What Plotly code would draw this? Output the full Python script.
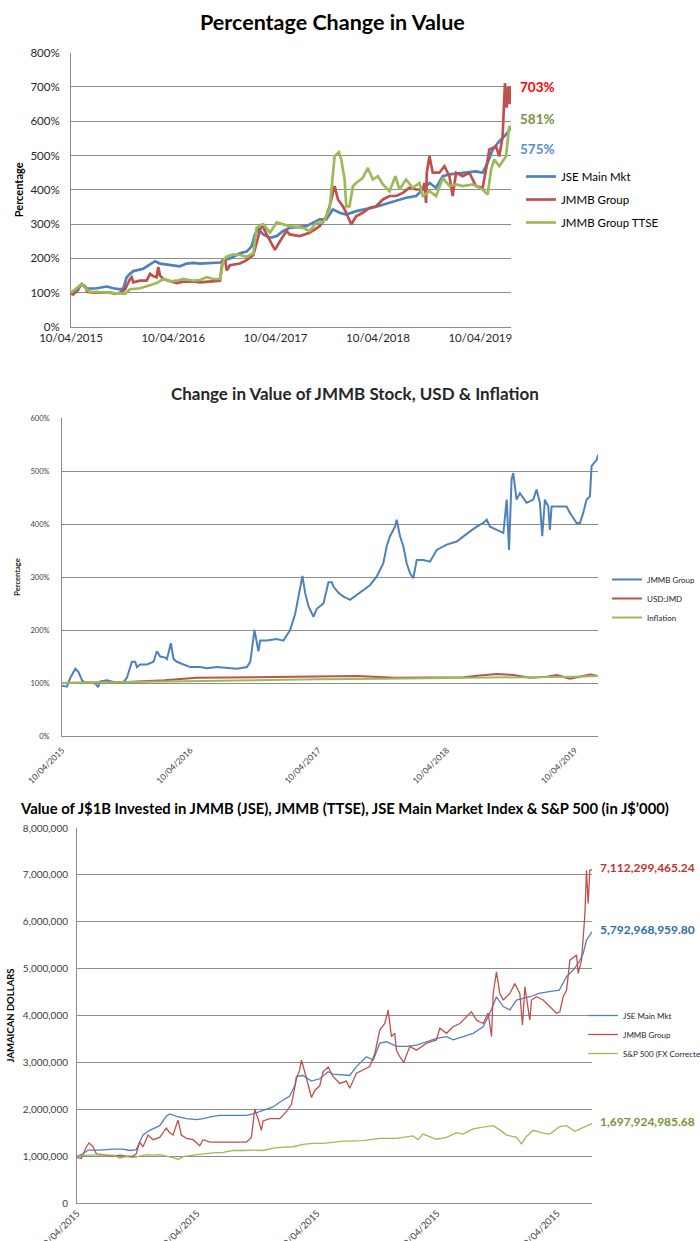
import plotly.graph_objects as go

W, H = 700, 1241
FONT = "Lato"
BLUE, RED, GREEN = "#4F81BD", "#C0504D", "#9BBB59"
GRID = "#8C8C8C"

# ---------------- Chart 1: Percentage Change in Value (years since 10/04/2015, %)
c1_ticks = [0, 1, 2, 3, 4]
c1_ticktext = ["10/04/2015", "10/04/2016", "10/04/2017", "10/04/2018", "10/04/2019"]

c1_jse_t = [0, 0.055, 0.088, 0.104, 0.137, 0.153, 0.251, 0.349, 0.414, 0.479, 0.511, 0.544, 0.577, 0.609,
            0.707, 0.772, 0.821, 0.870, 0.935, 1.000, 1.065, 1.130, 1.195, 1.261, 1.326, 1.391, 1.456, 1.489,
            1.554, 1.586, 1.651, 1.717, 1.765, 1.798, 1.831, 1.879, 1.945, 2.010, 2.075,
            2.137, 2.300, 2.430, 2.495, 2.560, 2.625, 2.690, 2.787, 2.950, 3.113, 3.275, 3.373, 3.438, 3.503,
            3.568, 3.633, 3.698, 3.828, 3.958, 4.023, 4.072, 4.121, 4.186, 4.235, 4.300]
c1_jse_v = [100, 102, 118, 125, 118, 112, 113, 118, 113, 110, 112, 145, 155, 163, 170, 183, 192, 185, 182,
            178, 177, 185, 187, 185, 186, 185, 188, 195, 200, 205, 215, 220, 235, 270, 285, 270, 260, 265, 280,
            289, 294, 314, 314, 343, 333, 328, 338, 348, 362, 377, 382, 401, 420, 406, 440, 445, 450, 454, 450,
            479, 517, 542, 556, 580]

c1_jmmb_t = [0, 0.023, 0.072, 0.104, 0.137, 0.160, 0.218, 0.283, 0.381, 0.430, 0.479, 0.528, 0.577, 0.593,
             0.609, 0.674, 0.739, 0.772, 0.805, 0.837, 0.853, 0.870, 0.902, 0.967, 1.033, 1.098, 1.195, 1.261,
             1.358, 1.456, 1.482, 1.505, 1.521, 1.554, 1.651, 1.717, 1.782, 1.831, 1.863, 1.912, 1.961, 1.993,
             2.042, 2.107,
             2.137, 2.235, 2.332, 2.430, 2.495, 2.527, 2.576, 2.609, 2.657, 2.690, 2.739, 2.787, 2.852, 2.918,
             2.983, 3.048, 3.113, 3.178, 3.243, 3.308, 3.373, 3.438, 3.454, 3.470, 3.477, 3.503, 3.535, 3.600,
             3.649, 3.698, 3.730, 3.763, 3.828, 3.893, 3.958, 4.023, 4.056, 4.088, 4.153, 4.186, 4.218, 4.241,
             4.258, 4.274, 4.290, 4.300]
c1_jmmb_v = [97, 95, 115, 125, 118, 103, 100, 101, 100, 97, 100, 110, 140, 145, 130, 135, 135, 155, 148, 145,
             175, 150, 140, 135, 128, 132, 133, 130, 132, 135, 195, 200, 165, 180, 185, 195, 210, 260, 300, 270,
             240, 225, 250, 280,
             270, 265, 275, 294, 323, 352, 411, 372, 352, 333, 299, 323, 333, 348, 352, 372, 382, 382, 391, 406,
             401, 401, 420, 362, 450, 498, 450, 450, 469, 440, 382, 450, 440, 450, 411, 406, 459, 517, 527, 498,
             556, 711, 640, 700, 650, 703]

c1_ttse_t = [0, 0.104, 0.153, 0.186, 0.283, 0.381, 0.479, 0.528, 0.577, 0.674, 0.772, 0.837, 0.902, 0.967,
             1.033, 1.098, 1.195, 1.261, 1.326, 1.391, 1.456, 1.489, 1.521, 1.586, 1.651, 1.717, 1.782, 1.814,
             1.879, 1.945, 2.010, 2.075,
             2.137, 2.267, 2.332, 2.397, 2.462, 2.527, 2.544, 2.576, 2.618, 2.641, 2.674, 2.690, 2.722, 2.755,
             2.787, 2.852, 2.901, 2.950, 2.999, 3.048, 3.113, 3.171, 3.210, 3.275, 3.340, 3.405, 3.438, 3.503,
             3.568, 3.633, 3.698, 3.763, 3.828, 3.926, 4.023, 4.072, 4.105, 4.137, 4.186, 4.251, 4.283, 4.300]
c1_ttse_v = [100, 125, 110, 103, 102, 100, 97, 97, 110, 113, 122, 128, 140, 133, 135, 140, 135, 137, 145, 140,
             140, 195, 205, 212, 210, 205, 215, 290, 300, 275, 305, 300,
             294, 289, 280, 304, 304, 343, 401, 498, 510, 488, 430, 352, 352, 411, 420, 435, 464, 430, 440, 416,
             396, 440, 401, 430, 406, 420, 382, 396, 382, 435, 411, 416, 411, 416, 401, 386, 459, 488, 469, 498,
             585, 581]

c1_names = ["JSE Main Mkt", "JMMB Group", "JMMB Group TTSE"]
c1_end_labels = ["703%", "581%", "575%"]
c1_end_label_y = [700, 606, 519]
c1_end_label_colors = ["#FF0000", "#77933C", "#558ED5"]

# ---------------- Chart 2: Change in Value of JMMB Stock, USD & Inflation (%)
c2_ticktext = ["10/04/2015", "10/04/2016", "10/04/2017", "10/04/2018", "10/04/2019"]
c2_jmmb_t = [0, 0.039, 0.065, 0.104, 0.130, 0.156, 0.182, 0.221, 0.260, 0.281,
             0.299, 0.351, 0.403, 0.481, 0.506, 0.545, 0.571, 0.584, 0.610, 0.662,
             0.714, 0.740, 0.766, 0.805, 0.818, 0.849, 0.870, 0.896, 0.948, 1.000,
             1.078, 1.130, 1.208, 1.286, 1.364, 1.442, 1.468, 1.501, 1.519, 1.532,
             1.545, 1.597, 1.675, 1.727, 1.753, 1.779, 1.818, 1.844, 1.875, 1.896,
             1.922, 1.961, 1.987, 2.039, 2.078, 2.104, 2.117, 2.156, 2.195, 2.247,
             2.299, 2.351, 2.403, 2.455, 2.506, 2.532, 2.558, 2.597, 2.610, 2.636,
             2.662, 2.688, 2.714, 2.740, 2.766, 2.818, 2.870, 2.922, 3.000, 3.078,
             3.130, 3.182, 3.234, 3.286, 3.312, 3.338, 3.390, 3.442, 3.468, 3.486,
             3.506, 3.519, 3.545, 3.571, 3.623, 3.675, 3.701, 3.727, 3.745, 3.766,
             3.792, 3.805, 3.818, 3.883, 3.935, 3.961, 4.013, 4.039, 4.065, 4.091,
             4.117, 4.130, 4.169, 4.182]
c2_jmmb_v = [95, 93, 110, 127, 120, 105, 100, 101, 99, 92,
             103, 105, 102, 102, 110, 140, 140, 130, 135, 135,
             140, 160, 150, 148, 145, 175, 145, 140, 135, 130,
             130, 128, 130, 128, 127, 130, 140, 200, 175, 160,
             180, 180, 183, 180, 190, 200, 230, 265, 302, 270,
             245, 225, 240, 250, 290, 290, 282, 270, 263, 257,
             266, 276, 285, 301, 326, 358, 377, 395, 408, 377,
             358, 326, 307, 298, 332, 332, 329, 351, 361, 367,
             377, 386, 395, 402, 408, 395, 389, 383, 446, 351,
             484, 496, 446, 458, 440, 446, 465, 440, 377, 446,
             433, 389, 433, 433, 433, 421, 402, 402, 421, 446,
             452, 509, 521, 531]
c2_usd_t = [0, 0.5, 0.8, 1.05, 1.5, 2.0, 2.3, 2.6, 2.9, 3.13, 3.26, 3.39, 3.52, 3.65, 3.78, 3.86, 3.96, 4.04,
            4.12, 4.18]
c2_usd_v = [100, 102, 105, 110, 111, 112, 113, 110, 110, 111, 114, 117, 115, 110, 112, 115, 108, 112, 116, 113]
c2_inf_t = [0, 0.5, 1.0, 1.5, 2.0, 2.5, 3.0, 3.5, 4.0, 4.18]
c2_inf_v = [100, 102, 103, 105, 107, 108, 109, 111, 112, 113]
c2_names = ["JMMB Group", "USD:JMD", "Inflation"]

# ---------------- Chart 3: Value of J$1B invested (J$ billions = millions of J$'000)
c3_ticktext = ["10/04/2015"] * 5
c3_ytickvals = [0, 1, 2, 3, 4, 5, 6, 7, 8]
c3_yticktext = ["0", "1,000,000", "2,000,000", "3,000,000", "4,000,000", "5,000,000", "6,000,000",
                "7,000,000", "8,000,000"]
c3_jse_t = [0, 0.05, 0.092, 0.189, 0.3, 0.383, 0.439, 0.494, 0.522, 0.55,
            0.606, 0.689, 0.744, 0.772, 0.828, 0.911, 0.994, 1.05, 1.133, 1.189,
            1.3, 1.411, 1.467, 1.522, 1.578, 1.633, 1.689, 1.772, 1.814, 1.828,
            1.883, 1.953, 2.022, 2.092, 2.133, 2.217, 2.272, 2.328, 2.411, 2.467,
            2.522, 2.578, 2.661, 2.744, 2.828, 2.911, 2.994, 3.078, 3.133, 3.217,
            3.3, 3.383, 3.439, 3.494, 3.55, 3.606, 3.661, 3.772, 3.85, 3.933,
            4.017, 4.078, 4.133, 4.175, 4.217, 4.244, 4.292]
c3_jse_v = [1.0, 1.05, 1.13, 1.13, 1.15, 1.15, 1.12, 1.14, 1.3, 1.45,
            1.55, 1.65, 1.85, 1.9, 1.85, 1.8, 1.78, 1.8, 1.85, 1.87,
            1.87, 1.87, 1.9, 1.95, 2.0, 2.05, 2.15, 2.28, 2.5, 2.7,
            2.72, 2.6, 2.65, 2.8, 2.75, 2.73, 2.72, 2.91, 3.12, 3.05,
            3.41, 3.44, 3.34, 3.34, 3.37, 3.44, 3.51, 3.55, 3.48, 3.55,
            3.62, 3.76, 4.05, 4.40, 4.19, 4.12, 4.33, 4.40, 4.47, 4.51,
            4.54, 4.83, 4.97, 5.11, 5.32, 5.61, 5.79]
c3_jmmb_t = [0, 0.036, 0.078, 0.1, 0.133, 0.161, 0.244, 0.3, 0.356, 0.411,
             0.467, 0.494, 0.522, 0.55, 0.592, 0.633, 0.689, 0.744, 0.772, 0.8,
             0.842, 0.869, 0.911, 0.967, 1.022, 1.05, 1.106, 1.189, 1.3, 1.411,
             1.453, 1.481, 1.508, 1.536, 1.55, 1.606, 1.689, 1.744, 1.786, 1.828,
             1.856, 1.869, 1.897, 1.925, 1.953, 1.981, 2.022, 2.05, 2.092, 2.133,
             2.189, 2.244, 2.272, 2.328, 2.383, 2.439, 2.481, 2.522, 2.564, 2.592,
             2.619, 2.647, 2.661, 2.689, 2.722, 2.772, 2.828, 2.911, 2.994, 3.022,
             3.078, 3.133, 3.189, 3.244, 3.286, 3.328, 3.383, 3.425, 3.453, 3.467,
             3.494, 3.522, 3.55, 3.606, 3.647, 3.689, 3.711, 3.731, 3.772, 3.786,
             3.828, 3.883, 3.939, 3.994, 4.022, 4.05, 4.078, 4.106, 4.161, 4.175,
             4.203, 4.231, 4.244, 4.258, 4.272, 4.292]
c3_jmmb_v = [0.97, 0.95, 1.2, 1.28, 1.2, 1.05, 1.02, 1.0, 1.02, 1.0,
             1.0, 1.05, 1.3, 1.2, 1.45, 1.35, 1.4, 1.6, 1.5, 1.45,
             1.77, 1.45, 1.38, 1.35, 1.22, 1.35, 1.3, 1.3, 1.3, 1.3,
             1.4, 2.0, 1.8, 1.55, 1.75, 1.8, 1.8, 1.95, 2.1, 2.65,
             2.85, 3.05, 2.8, 2.5, 2.25, 2.4, 2.5, 2.8, 2.9, 2.7,
             2.55, 2.6, 2.45, 2.77, 2.84, 2.91, 3.19, 3.69, 3.83, 4.12,
             3.55, 3.62, 3.26, 3.12, 3.0, 3.34, 3.26, 3.41, 3.48, 3.73,
             3.62, 3.76, 3.83, 3.97, 4.08, 3.90, 3.83, 4.05, 3.55, 4.47,
             4.93, 4.47, 4.33, 4.47, 4.68, 4.47, 3.80, 4.61, 3.90, 4.33,
             4.40, 4.33, 4.19, 4.05, 4.08, 4.40, 4.54, 5.18, 5.29, 4.90,
             5.18, 6.17, 7.10, 6.39, 7.10, 7.11]
c3_sp_t = [0, 0.078, 0.189, 0.3, 0.356, 0.411, 0.467, 0.522, 0.578, 0.633,
           0.689, 0.744, 0.8, 0.842, 0.883, 0.967, 1.05, 1.133, 1.217, 1.3,
           1.383, 1.467, 1.55, 1.633, 1.717, 1.8, 1.883, 1.967, 2.05, 2.133,
           2.217, 2.272, 2.383, 2.522, 2.661, 2.8, 2.842, 2.883, 2.939, 2.994,
           3.078, 3.161, 3.217, 3.3, 3.383, 3.467, 3.522, 3.578, 3.661, 3.703,
           3.744, 3.8, 3.883, 3.939, 4.022, 4.078, 4.147, 4.217, 4.292]
c3_sp_v = [1.0, 1.02, 1.02, 1.02, 0.96, 0.99, 0.97, 1.0, 1.03, 1.02,
           1.03, 1.0, 0.97, 0.93, 0.99, 1.02, 1.05, 1.07, 1.08, 1.12,
           1.12, 1.13, 1.12, 1.17, 1.19, 1.2, 1.25, 1.27, 1.27, 1.3,
           1.32, 1.32, 1.33, 1.38, 1.38, 1.43, 1.35, 1.47, 1.42, 1.36,
           1.40, 1.50, 1.47, 1.58, 1.62, 1.65, 1.56, 1.45, 1.40, 1.26,
           1.42, 1.55, 1.49, 1.47, 1.63, 1.65, 1.53, 1.61, 1.70]
c3_names = ["JSE Main Mkt", "JMMB Group", "S&P 500 (FX Corrected)"]
c3_end_labels = ["7,112,299,465.24", "5,792,968,959.80", "1,697,924,985.68"]
c3_end_label_y = [7.16, 5.84, 1.73]
c3_end_label_colors = ["#C9302C", "#2E6EAA", "#77933C"]


def fx(p):
    """page pixel x -> paper fraction"""
    return p / W


def fy(p):
    """page pixel y -> paper fraction"""
    return 1 - p / H


fig = go.Figure()

# chart 1 traces (each in its own legend group so the group gap sets the row spacing)
for i, (t, v, name, col) in enumerate([(c1_jse_t, c1_jse_v, c1_names[0], BLUE),
                                       (c1_jmmb_t, c1_jmmb_v, c1_names[1], RED),
                                       (c1_ttse_t, c1_ttse_v, c1_names[2], GREEN)]):
    fig.add_trace(go.Scatter(x=t, y=v, mode="lines", name=name, line=dict(color=col, width=2.7),
                             xaxis="x", yaxis="y", legend="legend", legendgroup=f"c1g{i}"))
# chart 2 traces
for t, v, name, col, w in [(c2_jmmb_t, c2_jmmb_v, c2_names[0], BLUE, 2),
                           (c2_usd_t, c2_usd_v, c2_names[1], RED, 2),
                           (c2_inf_t, c2_inf_v, c2_names[2], GREEN, 2)]:
    fig.add_trace(go.Scatter(x=t, y=v, mode="lines", name=name, line=dict(color=col, width=w),
                             xaxis="x2", yaxis="y2", legend="legend2"))
# chart 3 traces
for t, v, name, col in [(c3_jse_t, c3_jse_v, c3_names[0], BLUE),
                        (c3_jmmb_t, c3_jmmb_v, c3_names[1], RED),
                        (c3_sp_t, c3_sp_v, c3_names[2], GREEN)]:
    fig.add_trace(go.Scatter(x=t, y=v, mode="lines", name=name, line=dict(color=col, width=1.3),
                             xaxis="x3", yaxis="y3", legend="legend3"))

tick_c = "#404040"
common_x = dict(showgrid=False, zeroline=False, showline=True, linecolor=GRID, linewidth=1, ticks="",
                automargin=False)
common_y = dict(showgrid=True, gridcolor=GRID, gridwidth=1, zeroline=False, showline=True,
                linecolor=GRID, linewidth=1, ticks="", automargin=False)

annotations = []
# titles
annotations.append(dict(text="<b>Percentage Change in Value</b>", x=fx(332), y=fy(22), xref="paper",
                        yref="paper", xanchor="center", yanchor="middle", showarrow=False,
                        font=dict(family=FONT, size=21.5, color="#000000")))
annotations.append(dict(text="<b>Change in Value of JMMB Stock, USD & Inflation</b>", x=fx(355), y=fy(394),
                        xref="paper", yref="paper", xanchor="center", yanchor="middle", showarrow=False,
                        font=dict(family=FONT, size=17, color="#262626")))
annotations.append(dict(text="<b>Value of J$1B Invested in JMMB (JSE), JMMB (TTSE), JSE Main Market Index &amp; "
                             "S&amp;P 500 (in J$\u2019000)</b>", x=fx(344), y=fy(808), xref="paper",
                        yref="paper", xanchor="center", yanchor="middle", showarrow=False,
                        font=dict(family=FONT, size=14.8, color="#000000")))
for lab, y, col in zip(c1_end_labels, c1_end_label_y, c1_end_label_colors):
    annotations.append(dict(text=f"<b>{lab}</b>", x=fx(518), y=y, xref="paper", yref="y", xanchor="left",
                            yanchor="middle", showarrow=False, font=dict(family=FONT, size=13.5, color=col)))
for lab, y, col in zip(c3_end_labels, c3_end_label_y, c3_end_label_colors):
    annotations.append(dict(text=f"<b>{lab}</b>", x=fx(598), y=y, xref="paper", yref="y3", xanchor="left",
                            yanchor="middle", showarrow=False, font=dict(family=FONT, size=12, color=col)))

fig.update_layout(
    width=W, height=H, autosize=False,
    margin=dict(l=0, r=0, t=0, b=0, pad=0, autoexpand=False),
    paper_bgcolor="white", plot_bgcolor="white",
    font=dict(family=FONT, color=tick_c),
    annotations=annotations,
    xaxis=dict(domain=[fx(71), fx(511)], anchor="y", range=[0, 4.30], tickvals=c1_ticks,
               ticktext=c1_ticktext, tickfont=dict(size=11.5, color="#262626"), **common_x),
    yaxis=dict(domain=[fy(327), fy(52.7)], anchor="x", range=[0, 800], tickvals=list(range(0, 801, 100)),
               ticktext=[f"{v}%" for v in range(0, 801, 100)], tickfont=dict(size=11.5, color="#262626"),
               ticklabelstandoff=8,
               title=dict(text="<b>Percentage</b>", font=dict(size=11, color="#000000"), standoff=4),
               **common_y),
    xaxis2=dict(domain=[fx(62), fx(598)], anchor="y2", range=[0, 4.18], tickvals=c1_ticks,
                ticktext=c2_ticktext, tickangle=-45, tickfont=dict(size=8.5, color="#404040"),
                ticklabelstandoff=5, **common_x),
    yaxis2=dict(domain=[fy(736), fy(418)], anchor="x2", range=[0, 600], tickvals=list(range(0, 601, 100)),
                ticktext=[f"{v}%" for v in range(0, 601, 100)], tickfont=dict(size=7.5, color="#404040"),
                ticklabelstandoff=10,
                title=dict(text="<b>Percentage</b>", font=dict(size=7.5, color="#262626"), standoff=8),
                **common_y),
    xaxis3=dict(domain=[fx(77), fx(592)], anchor="y3", range=[0, 4.29], tickvals=c1_ticks,
                ticktext=c3_ticktext, tickangle=-45, tickfont=dict(size=9.5, color="#404040"), **common_x),
    yaxis3=dict(domain=[fy(1203), fy(828)], anchor="x3", range=[0, 8], tickvals=c3_ytickvals,
                ticktext=c3_yticktext, tickfont=dict(size=10, color="#404040"), ticklabelstandoff=6,
                title=dict(text="<b>JAMAICAN DOLLARS</b>", font=dict(size=9.5, color="#000000"), standoff=6),
                **common_y),
    legend=dict(x=fx(521), y=fy(162), xanchor="left", yanchor="top", font=dict(size=11.5, color="#000000"),
                bgcolor="rgba(0,0,0,0)", itemwidth=30, traceorder="grouped", tracegroupgap=4),
    legend2=dict(x=fx(607), y=fy(565), xanchor="left", yanchor="top", font=dict(size=8, color="#262626"),
                 bgcolor="rgba(0,0,0,0)", itemwidth=30),
    legend3=dict(x=fx(583), y=fy(1001), xanchor="left", yanchor="top", font=dict(size=8, color="#262626"),
                 bgcolor="rgba(0,0,0,0)", itemwidth=30),
    showlegend=True,
)

# remove the browser's default 8px body margin so the 700x1241 figure fills the window exactly
fig.write_html("out.html", config={"displayModeBar": False},
               post_script="document.body.style.margin='0px';")
